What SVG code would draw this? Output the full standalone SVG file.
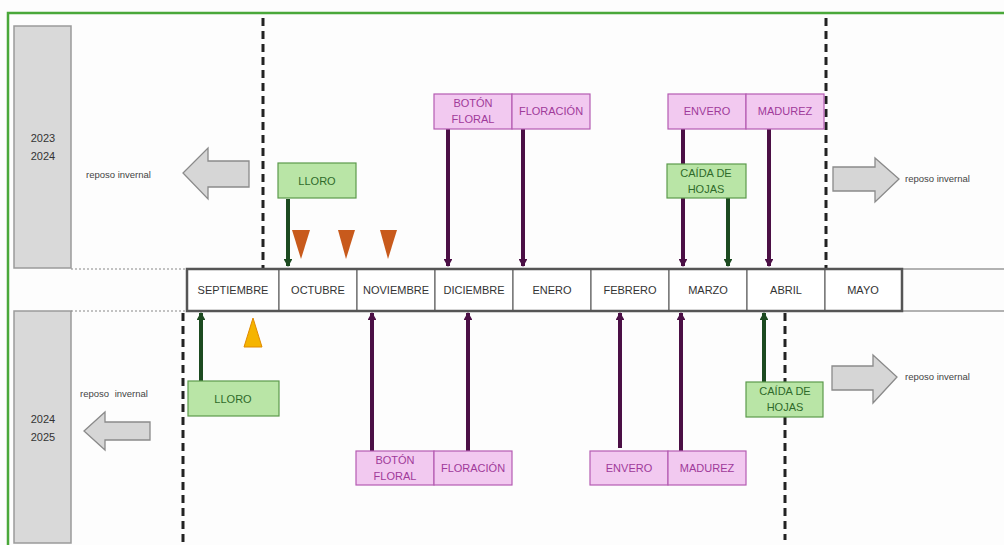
<svg xmlns="http://www.w3.org/2000/svg" width="1004" height="545" viewBox="0 0 1004 545">
<defs>
<style>
.t{font-family:"Liberation Sans",Arial,sans-serif;font-size:11px;text-anchor:middle;dominant-baseline:central}
.m{fill:#333}
.pk{fill:#f2c9f0;stroke:#b55cb2;stroke-width:1.2}
.pkt{fill:#a03a9a}
.gr{fill:#b9e5a6;stroke:#5c9a4c;stroke-width:1.2}
.grt{fill:#2f6a2a}
.yr{fill:#d9d9d9;stroke:#9a9a9a;stroke-width:1.5}
.big{fill:#d6d6d6;stroke:#8a8a8a;stroke-width:1.3}
.rep{font-family:"Liberation Sans",Arial,sans-serif;font-size:9.5px;fill:#444;dominant-baseline:central}
.dash{stroke:#222;stroke-width:3;stroke-dasharray:8,5;fill:none}
.dot{stroke:#888;stroke-width:1.2;stroke-dasharray:2,2;fill:none}
.pa{stroke:#4b0f45;stroke-width:4;fill:none}
.ga{stroke:#1c4a20;stroke-width:4;fill:none}
.cell{fill:#fff;stroke:#666;stroke-width:1.2}
</style>
<marker id="hp" viewBox="0 0 10 10" refX="9" refY="5" markerWidth="2.2" markerHeight="2.2" orient="auto" markerUnits="strokeWidth"><path d="M1,0 L10,5 L1,10 z" fill="#4b0f45"/></marker>
<marker id="hg" viewBox="0 0 10 10" refX="9" refY="5" markerWidth="2.2" markerHeight="2.2" orient="auto" markerUnits="strokeWidth"><path d="M1,0 L10,5 L1,10 z" fill="#1c4a20"/></marker>
</defs>
<rect width="1004" height="545" fill="#fdfdfd"/>
<path d="M8,545 V13 H1004" fill="none" stroke="#4aa83a" stroke-width="2.5"/>

<g id="year-2023-2024"><rect class="yr" x="14" y="26" width="57" height="242"/><text class="t m" x="43" y="138" font-size="10">2023</text><text class="t m" x="43" y="156" font-size="10">2024</text></g>
<g id="year-2024-2025"><rect class="yr" x="14" y="311" width="57" height="232"/><text class="t m" x="43" y="419" font-size="10">2024</text><text class="t m" x="43" y="437" font-size="10">2025</text></g>

<g id="guides">
<path class="dot" d="M71,269 H187 M71,311 H187"/>
<path d="M902,269 H1004 M902,311 H1004" stroke="#999" stroke-width="1.3"/>
<path class="dash" d="M263,18 V268"/>
<path class="dash" d="M826,18 V268"/>
<path class="dash" d="M183,313 V545"/>
<path class="dash" d="M785,313 V540"/>
</g>

<g id="months">
<rect class="cell" x="187" y="269" width="92" height="42"/><text class="t m" x="233" y="290">SEPTIEMBRE</text>
<rect class="cell" x="279" y="269" width="78" height="42"/><text class="t m" x="318" y="290">OCTUBRE</text>
<rect class="cell" x="357" y="269" width="78" height="42"/><text class="t m" x="396" y="290">NOVIEMBRE</text>
<rect class="cell" x="435" y="269" width="78" height="42"/><text class="t m" x="474" y="290">DICIEMBRE</text>
<rect class="cell" x="513" y="269" width="78" height="42"/><text class="t m" x="552" y="290">ENERO</text>
<rect class="cell" x="591" y="269" width="78" height="42"/><text class="t m" x="630" y="290">FEBRERO</text>
<rect class="cell" x="669" y="269" width="78" height="42"/><text class="t m" x="708" y="290">MARZO</text>
<rect class="cell" x="747" y="269" width="78" height="42"/><text class="t m" x="786" y="290">ABRIL</text>
<rect class="cell" x="825" y="269" width="77" height="42"/><text class="t m" x="863" y="290">MAYO</text>
<rect x="187" y="269" width="715" height="42" fill="none" stroke="#555" stroke-width="2.5"/>
</g>

<g id="connectors">
<path class="ga" d="M288,199 V266" marker-end="url(#hg)"/>
<path class="pa" d="M448,129 V266" marker-end="url(#hp)"/>
<path class="pa" d="M523,129 V266" marker-end="url(#hp)"/>
<path class="pa" d="M683,129 V266" marker-end="url(#hp)"/>
<path class="ga" d="M728,198 V266" marker-end="url(#hg)"/>
<path class="pa" d="M769,129 V266" marker-end="url(#hp)"/>
<path class="ga" d="M201,381 V313" marker-end="url(#hg)"/>
<path class="pa" d="M372,451 V313" marker-end="url(#hp)"/>
<path class="pa" d="M468,451 V313" marker-end="url(#hp)"/>
<path class="pa" d="M620,448 V313" marker-end="url(#hp)"/>
<path class="pa" d="M681,451 V313" marker-end="url(#hp)"/>
<path class="ga" d="M764,382 V313" marker-end="url(#hg)"/>
</g>

<g id="markers-tri">
<path d="M292,230 L310,230 L301,259 z" fill="#c85a1c"/>
<path d="M338,230 L355,230 L346,259 z" fill="#c85a1c"/>
<path d="M380,230 L397,230 L388,259 z" fill="#c85a1c"/>
<path d="M253,318 L262,347 L244,347 z" fill="#f5b400" stroke="#e08a00" stroke-width="1"/>
</g>

<g id="lloro-top"><rect class="gr" x="278" y="163" width="78" height="35"/><text class="t grt" x="317" y="181">LLORO</text></g>
<g id="boton-top"><rect class="pk" x="434" y="94" width="78" height="35"/><text class="t pkt" x="473" y="103">BOTÓN</text><text class="t pkt" x="473" y="119">FLORAL</text></g>
<g id="floracion-top"><rect class="pk" x="512" y="94" width="78" height="35"/><text class="t pkt" x="551" y="111">FLORACIÓN</text></g>
<g id="envero-top"><rect class="pk" x="668" y="94" width="78" height="35"/><text class="t pkt" x="707" y="111">ENVERO</text></g>
<g id="madurez-top"><rect class="pk" x="746" y="94" width="78" height="35"/><text class="t pkt" x="785" y="111">MADUREZ</text></g>
<g id="caida-top"><rect class="gr" x="667" y="164" width="79" height="34"/><text class="t grt" x="706" y="173">CAÍDA DE</text><text class="t grt" x="706" y="189">HOJAS</text></g>

<g id="lloro-bottom"><rect class="gr" x="188" y="381" width="91" height="35"/><text class="t grt" x="233" y="399">LLORO</text></g>
<g id="boton-bottom"><rect class="pk" x="356" y="451" width="78" height="34"/><text class="t pkt" x="395" y="460">BOTÓN</text><text class="t pkt" x="395" y="476">FLORAL</text></g>
<g id="floracion-bottom"><rect class="pk" x="434" y="451" width="78" height="34"/><text class="t pkt" x="473" y="468">FLORACIÓN</text></g>
<g id="envero-bottom"><rect class="pk" x="590" y="451" width="78" height="34"/><text class="t pkt" x="629" y="468">ENVERO</text></g>
<g id="madurez-bottom"><rect class="pk" x="668" y="451" width="78" height="34"/><text class="t pkt" x="707" y="468">MADUREZ</text></g>
<g id="caida-bottom"><rect class="gr" x="746" y="382" width="77" height="35"/><text class="t grt" x="785" y="391">CAÍDA DE</text><text class="t grt" x="785" y="407">HOJAS</text></g>

<g id="reposo-top-left"><path class="big" d="M249,161 H208 V148 L183,173 L208,199 V187 H249 z"/><text class="rep" x="86" y="174">reposo invernal</text></g>
<g id="reposo-top-right"><path class="big" d="M833,167 H875 V158 L899,179 L875,202 V191 H833 z"/><text class="rep" x="905" y="178">reposo invernal</text></g>
<g id="reposo-bottom-left"><path class="big" d="M150,422 H105 V412 L84,431 L105,450 V440 H150 z"/><text class="rep" x="80" y="393" word-spacing="3">reposo invernal</text></g>
<g id="reposo-bottom-right"><path class="big" d="M832,366 H873 V355 L897,377 L873,403 V390 H832 z"/><text class="rep" x="905" y="376">reposo invernal</text></g>
</svg>
